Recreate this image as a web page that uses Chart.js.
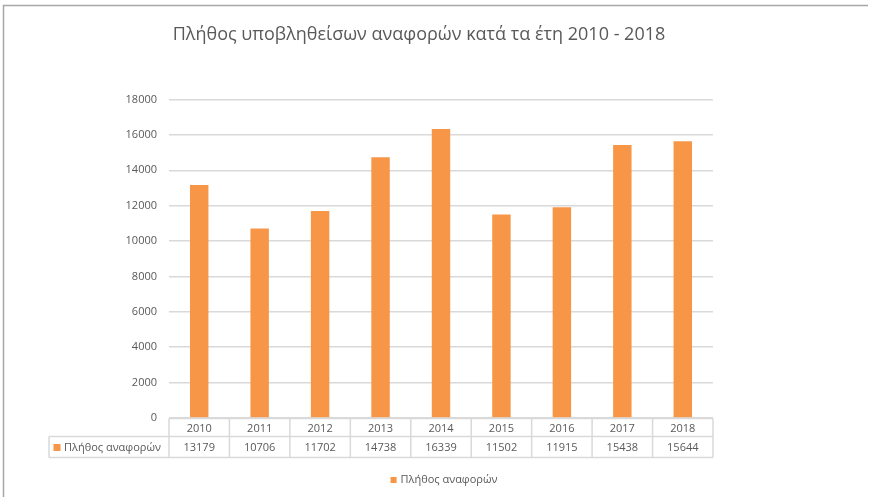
<!DOCTYPE html>
<html>
<head>
    <meta charset="utf-8">
    <title>Πλήθος υποβληθείσων αναφορών</title>
    <script src="https://cdn.jsdelivr.net/npm/chart.js"></script>
    <style>
        html, body { margin: 0; padding: 0; background: #fff; }
        #wrap { width: 869px; height: 497px; }
    </style>
</head>
<body>
    <div id="wrap"><canvas id="myChart" width="869" height="497"></canvas></div>
    <script>
        const years = ['2010', '2011', '2012', '2013', '2014', '2015', '2016', '2017', '2018'];
        const reports = [13179, 10706, 11702, 14738, 16339, 11502, 11915, 15438, 15644];
        const seriesName = 'Πλήθος αναφορών';
        const yTicks = [0, 2000, 4000, 6000, 8000, 10000, 12000, 14000, 16000, 18000];

        const orange = '#f79646';
        const textGrey = '#595959';
        const lineGrey = '#d9d9d9';
        const fontFamily = '"Open Sans", "Noto Sans", sans-serif';

        // frame, data table under the x axis (Excel style) and the legend
        const tablePlugin = {
            id: 'dataTable',
            beforeDraw(chart) {
                const ctx = chart.ctx;
                ctx.save();
                ctx.strokeStyle = '#a6a6a6';
                ctx.lineWidth = 1.5;
                ctx.beginPath();
                ctx.moveTo(3.5, 497);
                ctx.lineTo(3.5, 5.5);
                ctx.lineTo(868, 5.5);
                ctx.stroke();
                ctx.restore();
            },
            afterDraw(chart) {
                const ctx = chart.ctx;
                const x = chart.scales.x;
                const area = chart.chartArea;
                const top = area.bottom + 0.5;
                const mid = top + 18;
                const bottom = top + 39;
                const left = 49;
                const step = x.getPixelForValue(1) - x.getPixelForValue(0);
                const first = x.getPixelForValue(0) - step / 2;

                ctx.save();
                ctx.strokeStyle = lineGrey;
                ctx.lineWidth = 1.5;
                ctx.beginPath();
                ctx.moveTo(area.left, top); ctx.lineTo(area.right, top);
                ctx.moveTo(left, mid); ctx.lineTo(area.right, mid);
                ctx.moveTo(left, bottom); ctx.lineTo(area.right, bottom);
                ctx.moveTo(left, mid); ctx.lineTo(left, bottom);
                for (let i = 0; i <= years.length; i++) {
                    const px = first + i * step;
                    ctx.moveTo(px, top); ctx.lineTo(px, bottom);
                }
                ctx.stroke();

                ctx.fillStyle = textGrey;
                ctx.font = '11px ' + fontFamily;
                ctx.textAlign = 'center';
                ctx.textBaseline = 'middle';
                years.forEach((yr, i) => {
                    const cx = x.getPixelForValue(i);
                    ctx.fillText(yr, cx, (top + mid) / 2 + 1);
                    ctx.fillText(String(reports[i]), cx, (mid + bottom) / 2 + 1);
                });

                ctx.fillStyle = orange;
                ctx.fillRect(left + 4.5, mid + 7.5, 7, 7);
                ctx.fillStyle = textGrey;
                ctx.textAlign = 'left';
                ctx.fillText(seriesName, left + 15, (mid + bottom) / 2 + 1);

                // legend below the table
                const tw = ctx.measureText(seriesName).width;
                const lx = 444 - (10 + tw) / 2;
                const ly = 480;
                ctx.fillStyle = orange;
                ctx.fillRect(lx, ly - 3, 6, 6);
                ctx.fillStyle = textGrey;
                ctx.fillText(seriesName, lx + 10, ly);
                ctx.restore();
            }
        };

        const ctx = document.getElementById('myChart').getContext('2d');
        const myChart = new Chart(ctx, {
            type: 'bar',
            data: {
                labels: years,
                datasets: [{
                    label: seriesName,
                    data: reports,
                    backgroundColor: orange,
                    borderWidth: 0,
                    barPercentage: 0.61,
                    categoryPercentage: 0.5
                }]
            },
            plugins: [tablePlugin],
            options: {
                responsive: false,
                animation: false,
                layout: { padding: { top: 0, right: 156, bottom: 39, left: 125 } },
                plugins: {
                    title: {
                        display: true,
                        text: 'Πλήθος υποβληθείσων αναφορών κατά τα έτη 2010 - 2018',
                        color: textGrey,
                        font: { family: fontFamily, size: 18, weight: 'normal' },
                        padding: { top: 24, bottom: 54 }
                    },
                    legend: { display: false },
                    tooltip: { enabled: false }
                },
                scales: {
                    x: {
                        grid: { display: false },
                        border: { display: false },
                        ticks: { display: false },
                        afterFit(scale) { scale.height = 40; }
                    },
                    y: {
                        min: 0,
                        max: 18000,
                        afterBuildTicks(scale) { scale.ticks = yTicks.map(v => ({ value: v })); },
                        grid: { color: lineGrey, lineWidth: 1.5, drawTicks: false },
                        border: { display: false },
                        ticks: {
                            color: textGrey,
                            font: { family: fontFamily, size: 11 },
                            padding: 12,
                            callback: v => String(v)
                        },
                        afterFit(scale) { scale.width = 44; }
                    }
                }
            }
        });
    </script>
</body>
</html>
